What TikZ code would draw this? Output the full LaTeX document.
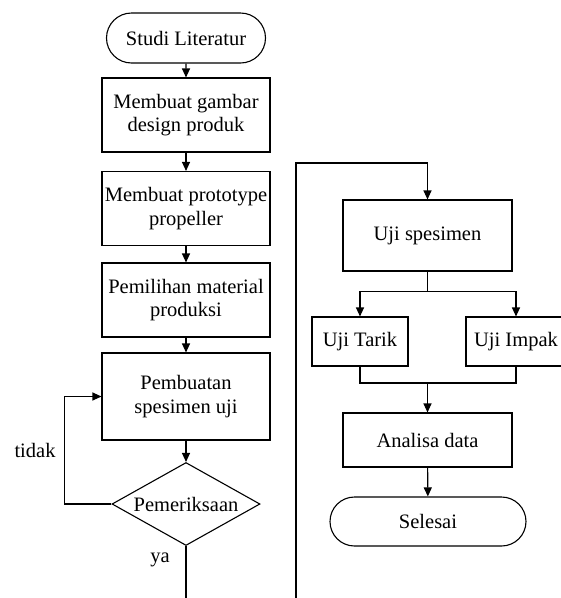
\documentclass[tikz,border=0pt]{standalone}
\usepackage{fontspec}
\setmainfont{Liberation Serif}
\usepackage{tikz}
\usetikzlibrary{arrows.meta}
\usetikzlibrary{shapes}

\begin{document}
\begin{tikzpicture}[x=1pt,y=-1pt,line width=1.1pt,
		>={Triangle[length=9pt,width=8pt]},
		font=\fontsize{20.5}{23.5}\selectfont,
		term node/.style = {rounded rectangle,draw,inner sep=0pt,minimum height=50pt},
		proc node/.style = {rectangle,draw,align=center,inner sep=0pt,minimum width=168pt,minimum height=74pt},
		dec node/.style = {diamond,draw,aspect=1.8,inner sep=0pt,minimum width=148pt,minimum height=83pt}]
			\clip (0,0) rectangle (561,598);
			\node[term node,minimum width=159pt] at (186,38) (1) {Studi Literatur};
			\node[proc node] at (186,115) (2) {Membuat gambar\\design produk};
			\node[proc node] at (186,208.5) (3) {Membuat prototype\\propeller};
			\node[proc node] at (186,300) (4) {Pemilihan material\\produksi};
			\node[proc node,minimum height=87pt] at (186,396.5) (5) {Pembuatan\\spesimen uji};
			\node[dec node] at (186,504) (6) {Pemeriksaan};
			\node[proc node,minimum width=169pt,minimum height=71pt] at (427.5,235.5) (7) {Uji spesimen};
			\node[proc node,minimum width=96pt,minimum height=49pt] at (360,341.5) (8) {Uji Tarik};
			\node[proc node,minimum width=100pt,minimum height=49pt] at (516,341.5) (9) {Uji Impak};
			\node[proc node,minimum width=169pt,minimum height=54pt] at (427.5,440) (10) {Analisa data};
			\node[term node,minimum width=196pt,minimum height=49pt] at (428,521.5) (11) {Selesai};
			\node at (35,450) (tidak) {tidak};
			\node at (160,560) (ya) {ya};
			\coordinate (a) at (186,598);
			\coordinate (b) at (296,598);
			\coordinate (c) at (296,163);
			\coordinate (j) at (427.5,383);
			\draw[->] (1) -- (2);
			\draw[->] (2) -- (3);
			\draw[->] (3) -- (4);
			\draw[->] (4) -- (5);
			\draw[->] (5) -- (6);
			\draw[->] (6.west) -- ++(-47,0) |- (5.west);
			\draw[-] (6.south) -- (a);
			\draw[->] (b) -- (c) -| (7.north);
			\draw[-] (7.south) -- ++(0,20) coordinate (s);
			\draw[->] (s) -| (8.north);
			\draw[->] (s) -| (9.north);
			\draw[-] (8.south) |- (j) -| (9.south);
			\draw[->] (j) -- (10);
			\draw[->] (10) -- (11);
		\end{tikzpicture}
\end{document}
